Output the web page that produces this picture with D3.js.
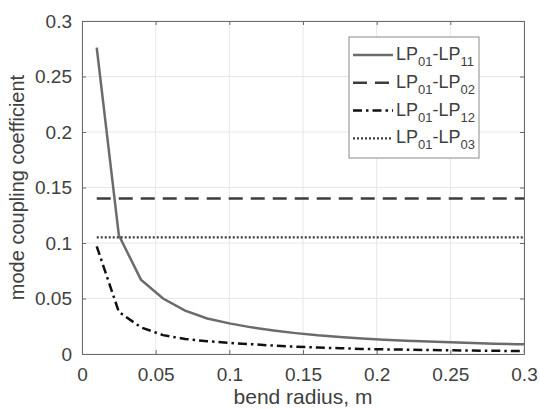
<!DOCTYPE html>
<html>
<head>
<meta charset="utf-8">
<script src="https://cdn.jsdelivr.net/npm/d3@7"></script>
<style>
    body { margin: 0; background: #fff; }
    text { font-family: "Liberation Sans", Arial, sans-serif; fill: #404040; }
</style>
</head>
<body>
<div id="chart"></div>
<script>
// bend radius samples (m)
let radius = [0.01, 0.025, 0.04, 0.055, 0.07, 0.085, 0.1, 0.115, 0.13, 0.145, 0.16,
    0.175, 0.19, 0.205, 0.22, 0.235, 0.25, 0.265, 0.28, 0.295, 0.3];

// coupling coefficients
let lp11 = [0.276, 0.107, 0.067, 0.050, 0.039, 0.032, 0.0276, 0.024, 0.0212, 0.0188, 0.0168,
    0.0153, 0.014, 0.0129, 0.012, 0.0112, 0.0105, 0.0099, 0.0093, 0.0088, 0.0087];
let lp12 = [0.097, 0.038, 0.024, 0.017, 0.0135, 0.0115, 0.0100, 0.0088, 0.0076, 0.0066, 0.0058,
    0.0052, 0.0046, 0.0042, 0.0039, 0.0036, 0.0033, 0.0031, 0.0029, 0.0027, 0.0027];
let lp02 = [0.14, 0.14];
let lp03 = [0.105, 0.105];
let flatRadius = [0.01, 0.3];

let xTicks = [0, 0.05, 0.1, 0.15, 0.2, 0.25, 0.3];
let yTicks = [0, 0.05, 0.1, 0.15, 0.2, 0.25, 0.3];

let legendSubs = [["01", "11"], ["01", "02"], ["01", "12"], ["01", "03"]];

let margin = { top: 21, right: 16, bottom: 56, left: 82 };
let width = 540 - margin.left - margin.right;
let height = 410 - margin.top - margin.bottom;

let svg = d3.select("#chart").append("svg")
    .attr("width", 540)
    .attr("height", 410)
    .append("g")
    .attr("transform", `translate(${margin.left}, ${margin.top})`);

let x = d3.scaleLinear().domain([0, 0.3]).range([0, width]);
let y = d3.scaleLinear().domain([0, 0.3]).range([height, 0]);

// grid
svg.append("g").selectAll("line.gx").data(xTicks).enter().append("line")
    .attr("x1", d => x(d)).attr("x2", d => x(d))
    .attr("y1", 0).attr("y2", height)
    .attr("stroke", "#e6e6e6").attr("stroke-width", 1);
svg.append("g").selectAll("line.gy").data(yTicks).enter().append("line")
    .attr("x1", 0).attr("x2", width)
    .attr("y1", d => y(d)).attr("y2", d => y(d))
    .attr("stroke", "#e6e6e6").attr("stroke-width", 1);

// axes
svg.append("g")
    .attr("transform", `translate(0, ${height})`)
    .call(d3.axisBottom(x).tickValues(xTicks).tickSizeInner(-4).tickSizeOuter(0).tickPadding(14)
        .tickFormat(d => d3.format("~g")(d)));
svg.append("g")
    .call(d3.axisLeft(y).tickValues(yTicks).tickSizeInner(-4).tickSizeOuter(0).tickPadding(10)
        .tickFormat(d => d3.format("~g")(d)));
svg.append("g")
    .call(d3.axisTop(x).tickValues(xTicks).tickSizeInner(-4).tickSizeOuter(0).tickFormat(""));
svg.append("g")
    .attr("transform", `translate(${width}, 0)`)
    .call(d3.axisRight(y).tickValues(yTicks).tickSizeInner(-4).tickSizeOuter(0).tickFormat(""));

svg.selectAll(".domain").attr("stroke", "#6a6a6a");
svg.selectAll(".tick line").attr("stroke", "#6a6a6a");
svg.selectAll(".tick text").attr("font-size", 19).attr("fill", "#404040")
    .style("font-family", '"Liberation Sans", Arial, sans-serif');

// axis labels
svg.append("text")
    .attr("x", width / 2).attr("y", height + 50)
    .attr("text-anchor", "middle").attr("font-size", 21)
    .text("bend radius, m");
svg.append("text")
    .attr("transform", `translate(${-58}, ${height / 2}) rotate(-90)`)
    .attr("text-anchor", "middle").attr("font-size", 20)
    .text("mode coupling coefficient");

// series
let line = d3.line().x(d => x(d[0])).y(d => y(d[1]));
let series = [
    { xs: radius, ys: lp11, color: "#6b6b6b", dash: null, w: 2.5 },
    { xs: flatRadius, ys: lp02, color: "#3d3d3d", dash: "14,8", w: 2.5 },
    { xs: radius, ys: lp12, color: "#111", dash: "9,4,2.5,4", w: 2.5 },
    { xs: flatRadius, ys: lp03, color: "#3d3d3d", dash: "2,2", w: 2.2 }
];
series.forEach(s => {
    svg.append("path")
        .datum(s.xs.map((v, i) => [v, s.ys[i]]))
        .attr("fill", "none")
        .attr("stroke", s.color)
        .attr("stroke-width", s.w)
        .attr("stroke-dasharray", s.dash)
        .attr("d", line);
});

// legend
let lg = svg.append("g").attr("transform", `translate(${349 - margin.left}, ${37 - margin.top})`);
lg.append("rect")
    .attr("width", 130).attr("height", 121)
    .attr("fill", "#fff").attr("stroke", "#8a8a8a").attr("stroke-width", 1);
series.forEach((s, i) => {
    let cy = 18 + i * 27.8;
    lg.append("line")
        .attr("x1", 4).attr("x2", 44).attr("y1", cy).attr("y2", cy)
        .attr("stroke", s.color).attr("stroke-width", s.w)
        .attr("stroke-dasharray", s.dash);
    let t = lg.append("text").attr("x", 47).attr("y", cy + 5).attr("font-size", 18);
    t.append("tspan").text("LP");
    t.append("tspan").attr("font-size", 13).attr("dy", 6).text(legendSubs[i][0]);
    t.append("tspan").attr("dy", -6).text("-LP");
    t.append("tspan").attr("font-size", 13).attr("dy", 6).text(legendSubs[i][1]);
});
</script>
</body>
</html>
